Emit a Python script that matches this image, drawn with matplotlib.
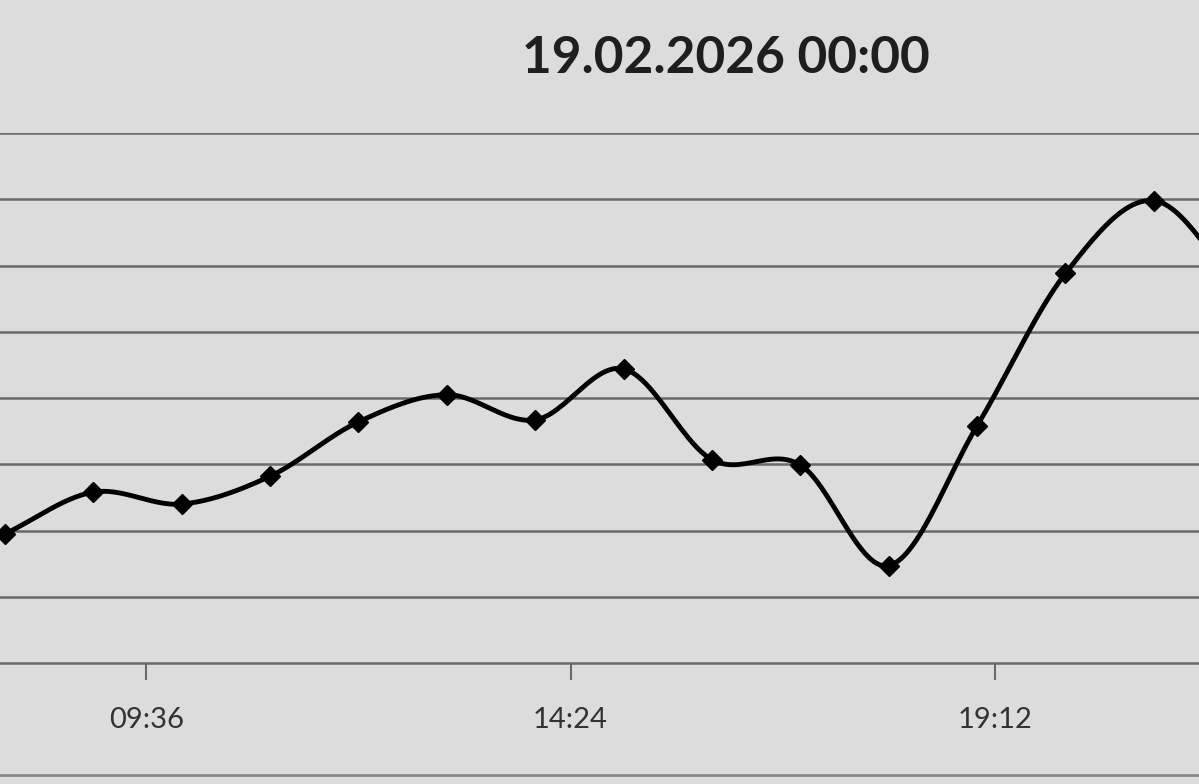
import numpy as np
import matplotlib
matplotlib.use("Agg")
import matplotlib.pyplot as plt
from matplotlib.lines import Line2D

# hourly readings, time as fraction of the day (Excel date axis)
hours = [8, 9, 10, 11, 12, 13, 14, 15, 16, 17, 18, 19, 20, 21, 22]
values = [1.95, 2.58, 2.40, 2.82, 3.64, 4.05, 3.67, 4.44, 3.07, 2.99,
          1.47, 3.58, 5.88, 6.98, 5.60]
tick_pos = [0.4, 0.6, 0.8]
tick_labels = ["09:36", "14:24", "19:12"]
title = "19.02.2026 00:00"

BG = "#dcdcdc"
GRID = "#6a6a6a"


def smooth(x, y, n=30):
    # Catmull-Rom curve through the points, like Excel's smoothed line
    x = np.asarray(x, float)
    y = np.asarray(y, float)
    px = np.concatenate([[2 * x[0] - x[1]], x, [2 * x[-1] - x[-2]]])
    py = np.concatenate([[2 * y[0] - y[1]], y, [2 * y[-1] - y[-2]]])
    xs, ys = [], []
    t = np.linspace(0, 1, n)
    for i in range(1, len(px) - 2):
        for p, out in ((px, xs), (py, ys)):
            p0, p1, p2, p3 = p[i - 1], p[i], p[i + 1], p[i + 2]
            out.append(0.5 * (2 * p1 + (-p0 + p2) * t
                              + (2 * p0 - 5 * p1 + 4 * p2 - p3) * t ** 2
                              + (-p0 + 3 * p1 - 3 * p2 + p3) * t ** 3))
    return np.concatenate(xs), np.concatenate(ys)


x = np.array(hours) / 24.0
sx, sy = smooth(x, values)

fig = plt.figure(figsize=(11.99, 7.84), dpi=100)
fig.patch.set_facecolor(BG)
ax = fig.add_axes([0, 0.1543, 1, 0.6760])
ax.set_facecolor(BG)

ax.plot(sx, sy, color="black", lw=3.5, solid_capstyle="round", zorder=3)
ax.plot(x, values, linestyle="none", marker="D", ms=10, color="black",
        zorder=4)

x0 = (8 * 60 - 3.4) / 1440
x1 = (21 * 60 + 30.7) / 1440
ax.set_xlim(x0, x1)
ax.set_ylim(0, 8)
ax.set_yticks(range(1, 9))
ax.yaxis.grid(True, color=GRID, lw=1.8)
ax.tick_params(axis="y", left=False, labelleft=False)
ax.set_xticks(tick_pos)
ax.set_xticklabels(tick_labels, fontsize=21, family="Lato", color="#333333")
ax.tick_params(axis="x", length=12, width=1.5, color=GRID, pad=20)
for side in ["top", "left", "right"]:
    ax.spines[side].set_visible(False)
ax.spines["bottom"].set_color(GRID)
ax.spines["bottom"].set_linewidth(1.8)
ax.set_axisbelow(True)

fig.text(0.605, 0.925, title, ha="center", va="center", fontsize=37,
         family="Lato", weight="bold", color="#1e1e1e")
fig.add_artist(Line2D([0, 1], [0.012, 0.012], color="#8a8a8a", lw=2,
                      transform=fig.transFigure))

fig.savefig("out.png", dpi=100, facecolor=BG)
